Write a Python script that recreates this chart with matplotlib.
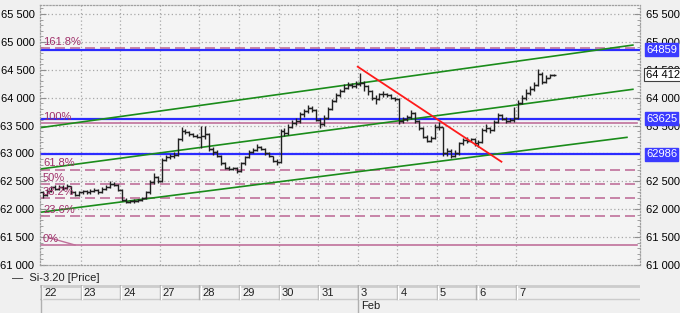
import numpy as np
import matplotlib.pyplot as plt
import matplotlib.transforms as mtransforms
from matplotlib.ticker import FuncFormatter, MultipleLocator

plt.rcParams['font.family'] = ['Liberation Sans', 'DejaVu Sans']
plt.rcParams['font.size'] = 8

# Data: hourly-ish bars, 10 per trading day
days = ['22', '23', '24', '27', '28', '29', '30', '31', '3', '4', '5', '6', '7']
month_label = 'Feb'
month_start = 8  # index of day "3"

closes = [
    62250, 62330, 62390, 62370, 62400, 62380, 62410, 62300, 62260, 62300,
    62320, 62300, 62330, 62340, 62300, 62360, 62400, 62460, 62440, 62350,
    62170, 62130, 62140, 62150, 62160, 62200, 62300, 62480, 62580, 62500,
    62880, 62930, 62950, 62980, 63250, 63400, 63380, 63340, 63320, 63300,
    63320, 63350, 63080, 63020, 62960, 62820, 62740, 62720, 62730, 62680,
    62820, 62940, 63030, 63060, 63120, 63080, 63000, 62950, 62870, 62850,
    63400, 63360, 63480, 63550, 63580, 63700, 63760, 63820, 63780, 63600,
    63520, 63640, 63800, 63940, 64040, 64120, 64180, 64220, 64200, 64240,
    64260, 64200, 64120, 64000, 63980, 64060, 64070, 64040, 64000, 63980,
    63580, 63620, 63660, 63730, 63580, 63460, 63300, 63220, 63280, 63480,
    63470, 63000, 63050, 62960, 63000, 63180, 63240, 63230, 63250, 63180,
    63200, 63420, 63460, 63420, 63560, 63680, 63620, 63580, 63600, 63640,
    63900, 64000, 64080, 64150, 64220, 64420, 64280, 64360, 64400, 64412,
]
highs = [
    62330, 62360, 62420, 62430, 62440, 62430, 62460, 62420, 62320, 62330,
    62350, 62340, 62360, 62380, 62360, 62390, 62430, 62500, 62480, 62450,
    62360, 62200, 62170, 62180, 62190, 62220, 62330, 62520, 62640, 62600,
    62920, 62980, 62990, 63020, 63280, 63480, 63440, 63400, 63360, 63350,
    63500, 63500, 63360, 63120, 63060, 62980, 62840, 62770, 62760, 62760,
    62840, 62960, 63060, 63100, 63160, 63140, 63100, 63020, 62960, 62900,
    63430, 63450, 63520, 63600, 63640, 63740, 63800, 63870, 63850, 63790,
    63640, 63680, 63840, 63980, 64080, 64160, 64250, 64280, 64260, 64300,
    64440, 64300, 64220, 64140, 64040, 64090, 64110, 64090, 64060, 64020,
    64000, 63660, 63690, 63780, 63740, 63600, 63480, 63330, 63320, 63520,
    63560, 63480, 63100, 63080, 63060, 63200, 63280, 63290, 63280, 63270,
    63240, 63460, 63520, 63480, 63600, 63720, 63700, 63650, 63640, 63830,
    63950, 64050, 64150, 64200, 64280, 64510, 64460, 64400, 64430, 64430,
]
lows = [
    62200, 62230, 62310, 62340, 62350, 62350, 62370, 62280, 62230, 62240,
    62270, 62270, 62280, 62300, 62270, 62290, 62340, 62380, 62420, 62330,
    62150, 62110, 62110, 62120, 62130, 62140, 62180, 62280, 62460, 62470,
    62480, 62860, 62900, 62920, 62960, 63220, 63350, 63310, 63290, 63270,
    63100, 63250, 63050, 62980, 62940, 62800, 62720, 62700, 62700, 62640,
    62660, 62800, 62920, 63010, 63040, 63060, 62980, 62930, 62850, 62800,
    62830, 63320, 63330, 63450, 63510, 63550, 63660, 63730, 63740, 63580,
    63450, 63500, 63610, 63780, 63920, 64010, 64100, 64150, 64170, 64180,
    64200, 64120, 64050, 63950, 63880, 63950, 64020, 64010, 63970, 63940,
    63520, 63540, 63580, 63620, 63550, 63420, 63280, 63200, 63200, 63260,
    63420, 62960, 62960, 62920, 62930, 62980, 63150, 63190, 63200, 63140,
    63120, 63180, 63380, 63360, 63400, 63540, 63590, 63550, 63560, 63560,
    63620, 63880, 63960, 64050, 64120, 64200, 64250, 64260, 64350, 64390,
]
first_open = 62300

# horizontal levels (blue) and fibonacci levels
blue_levels = [64859, 63625, 62986]
fib_labels = ['0%', '23.6%', '38.2%', '50%', '61.8%', '100%', '161.8%']
fib_values = [61358, 61873, 62192, 62449, 62707, 63540, 64888]
last_price = 64412

# trend lines: (x0, y0, x1, y1) in day units / price
channel = [(-0.025, 63460, 14.95, 64942),
           (-0.025, 62720, 14.95, 64149),
           (-0.025, 61944, 14.80, 63288)]
red_line = (8.0, 64554, 11.63, 62851)
fib_diag = (0.23, 61484, 0.86, 61358)

fmt = lambda v, pos=None: '{:,.0f}'.format(v).replace(',', ' ')

W, H = 680, 313
fig = plt.figure(figsize=(W / 100, H / 100), dpi=100, facecolor='#f0f0f0')
ax = fig.add_axes([40 / W, 48 / H, 600 / W, 260 / H], facecolor='#f4f4f4')
ax.set_xlim(-0.025, 15.13)
ax.set_ylim(61000, 65660)

# grid
for v in range(61500, 65501, 500):
    ax.axhline(v, color='#a8a8a8', lw=0.9, ls=(0, (1, 2)), zorder=0)
for d in range(1, 13):
    ax.axvline(d, color='#a8a8a8', lw=0.9, ls=(0, (1, 2)), zorder=0)

# OHLC bars
n = len(closes)
xs = np.array([i // 10 + (i % 10 + 0.5) / 10 for i in range(n)])
opens = [first_open] + closes[:-1]
ax.vlines(xs, lows, highs, color='#202020', lw=1.0, zorder=3)
ax.hlines(opens, xs - 0.07, xs, color='#202020', lw=1.0, zorder=3)
ax.hlines(closes, xs, xs + 0.07, color='#202020', lw=1.0, zorder=3)

# fibonacci
pink = '#c0709a'
for lab, v in zip(fib_labels, fib_values):
    ls = '-' if lab in ('0%', '100%') else (0, (6, 3))
    ax.axhline(v, xmax=0.995, color=pink, lw=1.2, ls=ls, zorder=2)
    ax.text(0.05, v + 25, lab, color='#a0306a', fontsize=8, va='bottom', ha='left', zorder=4)
ax.plot([fib_diag[0], fib_diag[2]], [fib_diag[1], fib_diag[3]], color=pink, lw=1.0, zorder=2)

# blue levels
for v in blue_levels:
    ax.axhline(v, color='#2b2bff', lw=1.6, zorder=2)

# channel + red trend line
for x0, y0, x1, y1 in channel:
    ax.plot([x0, x1], [y0, y1], color='#1a8c1a', lw=1.2, zorder=2)
ax.plot([red_line[0], red_line[2]], [red_line[1], red_line[3]], color='#ff1a1a', lw=1.3, zorder=4)

# axes styling
for s in ax.spines.values():
    s.set_color('#a0a0a0')
    s.set_linestyle((0, (1, 1.5)))
    s.set_linewidth(0.9)
ax.set_xticks([])
ax.set_yticks(range(61000, 65501, 500))
ax.yaxis.set_minor_locator(MultipleLocator(100))
ax.yaxis.set_major_formatter(FuncFormatter(fmt))
ax.tick_params(axis='y', which='both', direction='in', color='#909090',
               labelleft=True, labelright=True, left=True, right=True, pad=4)
ax.tick_params(axis='y', which='major', length=4)
ax.tick_params(axis='y', which='minor', length=2)
# right label at 63 000 sits fully under the 62986 box
for t in ax.yaxis.get_major_ticks():
    pass
ticks = ax.yaxis.get_major_ticks()
ticks[4].label2.set_visible(False)

# right-hand value boxes
tr = mtransforms.blended_transform_factory(ax.transAxes, ax.transData)
for v in blue_levels:
    ax.text(1.0 + 6 / 600, v, str(v), transform=tr, color='white', fontsize=8,
            va='center', ha='left', clip_on=False, zorder=6,
            bbox=dict(boxstyle='square,pad=0.12', fc='#3b3bff', ec='#3b3bff'))
ax.text(1.0 + 6 / 600, last_price, fmt(last_price), transform=tr, color='black', fontsize=8,
        va='center', ha='left', clip_on=False, zorder=6,
        bbox=dict(boxstyle='square,pad=0.15', fc='white', ec='#404040', lw=0.8))

# legend line
fig.text(12 / W, 1 - 278 / H, '\u2014  Si-3.20 [Price]', fontsize=8, va='center', ha='left', color='#202020')

# date bar
ax2 = fig.add_axes([40 / W, 0, 600 / W, 28 / H], facecolor='#f0f0f0')
ax2.set_xlim(ax.get_xlim())
ax2.set_ylim(0, 1)
ax2.axis('off')
ax2.axhline(0.98, color='#cccccc', lw=2)
ax2.axhline(0.5, color='#cccccc', lw=1)
for i, d in enumerate(days):
    ax2.plot([i, i], [0.5, 1], color='#b0b0b0', lw=1)
    ax2.plot([i + 0.03, i + 0.03], [0.5, 0.96], color='white', lw=1)
    ax2.text(i + 0.08, 0.73, d, fontsize=8, va='center', ha='left', color='#202020')
ax2.plot([0, 0], [0, 1], color='#b0b0b0', lw=1)
ax2.plot([month_start, month_start], [0, 1], color='#b0b0b0', lw=1)
ax2.text(month_start + 0.08, 0.24, month_label, fontsize=8, va='center', ha='left', color='#202020')

fig.savefig('out.png', dpi=100, facecolor=fig.get_facecolor())
